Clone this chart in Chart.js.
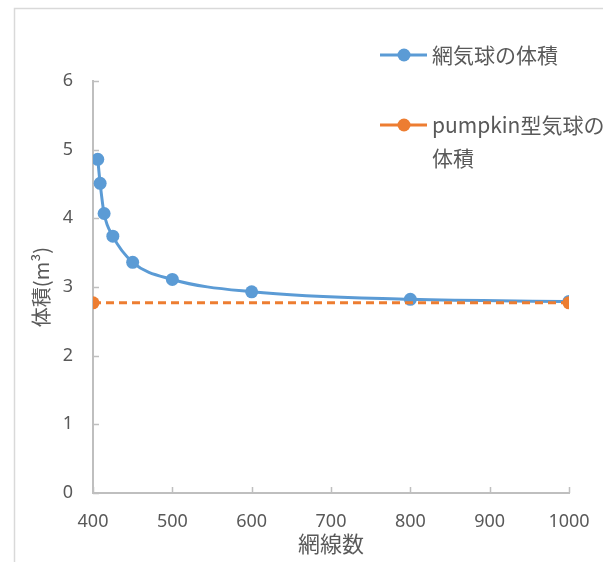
<!DOCTYPE html>
<html>
<head>
<meta charset="utf-8">
<script src="https://cdn.jsdelivr.net/npm/chart.js@4.4.0/dist/chart.umd.min.js"></script>
<style>
html,body{margin:0;padding:0;background:#fff;}
#wrap{position:relative;width:603px;height:562px;}
</style>
</head>
<body>
<div id="wrap"><canvas id="c" width="603" height="562"></canvas></div>
<script>
// ---- data ----
const netX = [406, 409, 414, 425, 450, 500, 600, 800, 1000];
const netVolume = [4.86, 4.51, 4.07, 3.74, 3.36, 3.11, 2.93, 2.82, 2.79];
const pumpkinX = [400, 1000];
const pumpkinVolume = [2.77, 2.77];
const seriesNames = ['網気球の体積', ['pumpkin型気球の', '体積']];
const xTitle = '網線数';
const yTitle = '体積(m³)';

const BLUE = '#5B9BD5', ORANGE = '#ED7D31', AXIS = '#BFBFBF', TXT = '#595959';
const NUMFONT = {family: '"Noto Sans", sans-serif', size: 18};
const JPFONT = '"Noto Sans CJK JP", sans-serif';

const framePlugin = {
  id: 'frame',
  beforeDraw(chart) {
    const ctx = chart.ctx;
    ctx.save();
    ctx.strokeStyle = '#D9D9D9';
    ctx.lineWidth = 1.5;
    ctx.strokeRect(14.5, 8.5, 700, 700);
    ctx.restore();
  }
};

const innerTicks = {
  id: 'innerTicks',
  afterDraw(chart) {
    const ctx = chart.ctx, x = chart.scales.x, y = chart.scales.y;
    ctx.save();
    ctx.strokeStyle = AXIS;
    ctx.lineWidth = 1.5;
    ctx.beginPath();
    y.ticks.forEach(t => {
      const py = Math.round(y.getPixelForValue(t.value)) + 0.5;
      ctx.moveTo(x.left, py); ctx.lineTo(x.left + 6, py);
    });
    x.ticks.forEach(t => {
      const px = Math.round(x.getPixelForValue(t.value)) + 0.5;
      ctx.moveTo(px, y.bottom); ctx.lineTo(px, y.bottom - 6);
    });
    ctx.stroke();
    ctx.restore();
  }
};

const legendPlugin = {
  id: 'customLegend',
  afterDraw(chart) {
    const ctx = chart.ctx;
    const entries = [
      {color: BLUE, text: seriesNames[0], y: 55},
      {color: ORANGE, text: seriesNames[1], y: 125}
    ];
    ctx.save();
    entries.forEach(e => {
      ctx.strokeStyle = e.color;
      ctx.lineWidth = 3;
      ctx.beginPath();
      ctx.moveTo(380, e.y); ctx.lineTo(427, e.y);
      ctx.stroke();
      ctx.fillStyle = e.color;
      ctx.beginPath();
      ctx.arc(404, e.y, 6.5, 0, Math.PI * 2);
      ctx.fill();
      ctx.fillStyle = TXT;
      ctx.font = '21px ' + JPFONT;
      ctx.textBaseline = 'middle';
      ctx.textAlign = 'left';
      const lines = Array.isArray(e.text) ? e.text : [e.text];
      lines.forEach((l, i) => ctx.fillText(l, 432, e.y + i * 33));
    });
    ctx.restore();
  }
};

new Chart(document.getElementById('c'), {
  type: 'scatter',
  data: {
    datasets: [
      {
        label: 'net',
        data: netX.map((x, i) => ({x, y: netVolume[i]})),
        showLine: true,
        borderColor: BLUE,
        backgroundColor: BLUE,
        borderWidth: 3,
        pointRadius: 6.5,
        pointHoverRadius: 6.5,
        pointBorderWidth: 0,
        cubicInterpolationMode: 'monotone',
        order: 2
      },
      {
        label: 'pumpkin',
        data: pumpkinX.map((x, i) => ({x, y: pumpkinVolume[i]})),
        showLine: true,
        borderColor: ORANGE,
        backgroundColor: ORANGE,
        borderWidth: 3,
        borderDash: [8, 5],
        pointRadius: 6.5,
        pointHoverRadius: 6.5,
        pointBorderWidth: 0,
        order: 1
      }
    ]
  },
  options: {
    responsive: false,
    animation: false,
    events: [],
    layout: {padding: {top: 81, right: 34, left: 1, bottom: 0}},
    plugins: {legend: {display: false}, tooltip: {enabled: false}},
    scales: {
      x: {
        type: 'linear', min: 400, max: 1000,
        afterFit(s) { s.height = 69; s.paddingRight = 0; s.paddingLeft = 0; },
        grid: {display: false, drawTicks: false},
        border: {display: true, color: AXIS, width: 2},
        ticks: {stepSize: 100, color: TXT, font: NUMFONT, padding: 18, maxRotation: 0, callback: v => String(v)},
        title: {display: true, text: xTitle, color: TXT, font: {family: JPFONT, size: 22}, padding: {top: 0, bottom: 5}}
      },
      y: {
        type: 'linear', min: 0, max: 6,
        afterFit(s) { s.width = 92; },
        grid: {display: false, drawTicks: false},
        border: {display: true, color: AXIS, width: 2},
        ticks: {stepSize: 1, color: TXT, font: NUMFONT, padding: 20},
        title: {display: true, text: yTitle, color: TXT, font: {family: JPFONT, size: 20}, padding: {top: 28, bottom: 0}}
      }
    }
  },
  plugins: [framePlugin, innerTicks, legendPlugin]
});
</script>
</body>
</html>
